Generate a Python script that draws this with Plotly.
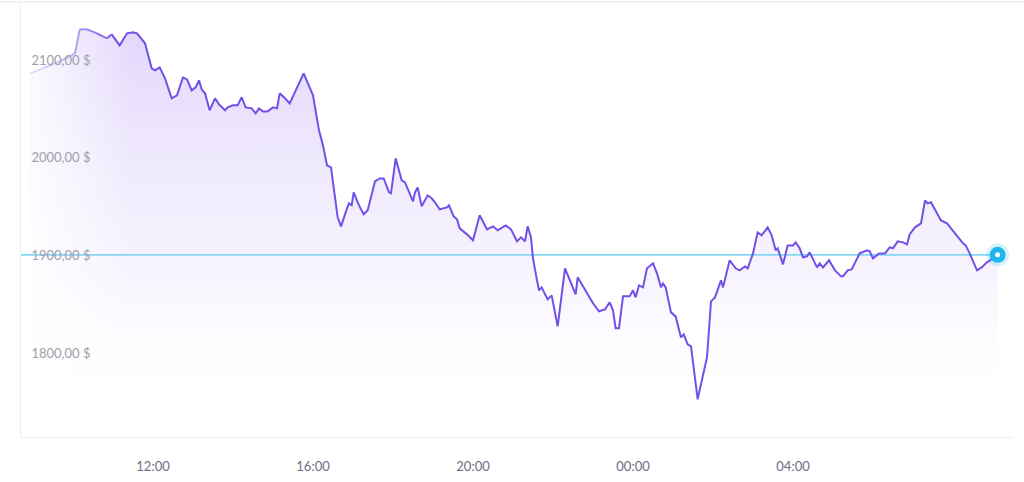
import plotly.graph_objects as go
import pandas as pd

# ---- data ----
times = [
    "08:56", "09:18", "09:40", "10:03", "10:10", "10:21", "10:36", "10:51", "10:58", "11:10",
    "11:21", "11:30", "11:36", "11:48", "11:58", "12:03", "12:10", "12:18", "12:28", "12:36",
    "12:45", "12:51", "12:58", "13:04", "13:09", "13:13", "13:18", "13:25", "13:33", "13:39",
    "13:48", "13:52", "14:00", "14:07", "14:13", "14:19", "14:28", "14:34", "14:39", "14:45",
    "14:52", "15:00", "15:06", "15:10", "15:18", "15:25", "15:46", "16:00", "16:09", "16:15",
    "16:21", "16:27", "16:37", "16:42", "16:51", "16:54", "16:58", "17:01", "17:09", "17:16",
    "17:22", "17:33", "17:40", "17:46", "17:54", "17:57", "18:04", "18:13", "18:18", "18:30",
    "18:33", "18:37", "18:43", "18:52", "18:58", "19:03", "19:10", "19:21", "19:24", "19:31",
    "19:36", "19:40", "19:51", "20:00", "20:10", "20:21", "20:30", "20:37", "20:49", "20:57",
    "21:06", "21:12", "21:18", "21:22", "21:27", "21:30", "21:36", "21:39", "21:43", "21:52",
    "21:58", "22:07", "22:18", "22:25", "22:34", "22:37", "22:48", "23:00", "23:09", "23:18",
    "23:25", "23:30", "23:34", "23:39", "23:45", "23:55", "00:00", "00:04", "00:09", "00:15",
    "00:21", "00:30", "00:36", "00:42", "00:45", "00:49", "00:57", "01:04", "01:12", "01:16",
    "01:22", "01:27", "01:37", "01:51", "01:57", "02:03", "02:12", "02:15", "02:25", "02:34",
    "02:40", "02:48", "02:52", "03:00", "03:07", "03:13", "03:22", "03:28", "03:34", "03:37",
    "03:45", "03:52", "04:00", "04:04", "04:10", "04:15", "04:21", "04:25", "04:36", "04:40",
    "04:45", "04:54", "05:03", "05:12", "05:15", "05:22", "05:28", "05:40", "05:51", "05:55",
    "06:00", "06:09", "06:18", "06:25", "06:30", "06:37", "06:45", "06:51", "06:55", "07:03",
    "07:12", "07:18", "07:22", "07:27", "07:36", "07:42", "07:51", "08:03", "08:10", "08:15",
    "08:19", "08:25", "08:36", "08:43", "08:51", "08:55", "09:07",
]
prices = [
    2086.3, 2092.5, 2098.6, 2106.8, 2131.4, 2131.4, 2127.3, 2122.2, 2126.3, 2115.0,
    2127.3, 2128.3, 2127.3, 2117.1, 2091.5, 2089.4, 2092.5, 2081.2, 2060.8, 2063.8,
    2082.3, 2080.2, 2068.9, 2072.0, 2079.2, 2070.0, 2065.9, 2048.5, 2060.8, 2054.6,
    2048.5, 2051.5, 2053.6, 2053.6, 2061.8, 2051.5, 2050.5, 2045.4, 2050.5, 2047.4,
    2047.4, 2051.5, 2050.5, 2065.9, 2060.8, 2055.6, 2086.3, 2063.8, 2028.0, 2012.6,
    1992.2, 1990.1, 1938.9, 1929.7, 1948.1, 1953.2, 1951.2, 1964.5, 1951.2, 1942.0,
    1946.1, 1975.8, 1978.8, 1978.8, 1964.5, 1963.5, 1999.3, 1976.8, 1974.7, 1955.3,
    1964.5, 1969.6, 1950.2, 1961.4, 1958.4, 1954.3, 1947.1, 1949.1, 1951.2, 1939.9,
    1936.9, 1927.6, 1921.5, 1915.4, 1941.0, 1926.6, 1929.7, 1925.6, 1930.7, 1926.6,
    1914.3, 1918.4, 1914.3, 1929.7, 1918.4, 1896.9, 1874.4, 1864.2, 1867.2, 1854.9,
    1859.0, 1827.3, 1886.7, 1875.4, 1860.1, 1877.5, 1865.2, 1850.9, 1842.7, 1844.7,
    1851.9, 1843.7, 1825.3, 1825.3, 1858.0, 1858.0, 1864.2, 1857.0, 1869.3, 1867.2,
    1886.7, 1891.8, 1881.6, 1867.2, 1871.3, 1867.2, 1841.6, 1837.5, 1816.0, 1819.1,
    1808.9, 1806.8, 1752.6, 1795.6, 1852.9, 1857.0, 1874.4, 1867.2, 1894.9, 1886.7,
    1884.6, 1888.7, 1886.7, 1902.0, 1923.5, 1920.5, 1928.7, 1920.5, 1905.1, 1907.2,
    1890.8, 1910.2, 1910.2, 1913.3, 1907.2, 1898.0, 1899.0, 1903.1, 1887.7, 1891.8,
    1887.7, 1894.9, 1884.6, 1878.5, 1878.5, 1884.6, 1885.5, 1902.0, 1905.1, 1904.1,
    1896.9, 1902.0, 1902.0, 1908.2, 1907.2, 1914.3, 1913.3, 1911.3, 1921.5, 1928.7,
    1932.8, 1956.3, 1953.2, 1954.3, 1943.0, 1935.8, 1932.8, 1922.5, 1915.4, 1912.3,
    1910.2, 1902.0, 1884.6, 1887.7, 1892.8, 1894.9, 1900.5,
]
x_tick_labels = ["12:00", "16:00", "20:00", "00:00", "04:00"]
y_tick_values = [1800, 1900, 2000, 2100]
y_tick_labels = ["1800,00 $", "1900,00 $", "2000,00 $", "2100,00 $"]
x_range = ["2024-01-01 08:42", "2024-01-02 09:30"]
y_range = [1714, 2159.4]

BASE = pd.Timestamp("2024-01-01")


def to_stamps(labels):
    out, day, prev = [], 0, None
    for t in labels:
        h, m = map(int, t.split(":"))
        mins = h * 60 + m
        if prev is not None and mins < prev:
            day += 1
        prev = mins
        out.append((BASE + pd.Timedelta(days=day, minutes=mins)).strftime("%Y-%m-%d %H:%M"))
    return out


stamps = to_stamps(times)
tick_stamps = to_stamps(x_tick_labels)

LINE = "rgb(114,80,232)"
CYAN = "#1fb6ee"

fig = go.Figure()

# gradient area
fig.add_trace(go.Scatter(
    x=stamps, y=prices, mode="lines", line=dict(width=0, color="rgba(0,0,0,0)"),
    fill="tozeroy",
    fillgradient=dict(
        type="vertical",
        colorscale=[[0, "rgba(255,255,255,0)"], [0.35, "rgba(220,208,250,0.22)"],
                    [1, "rgba(195,172,248,0.48)"]],
        start=y_range[0] + 20, stop=2130,
    ),
    hoverinfo="skip", showlegend=False,
))

# white fade over the left start of the area
n_left = 12
fig.add_trace(go.Scatter(
    x=stamps[:n_left], y=prices[:n_left], mode="lines", line=dict(width=0, color="rgba(0,0,0,0)"),
    fill="tozeroy",
    fillgradient=dict(
        type="horizontal",
        colorscale=[[0, "rgba(255,255,255,0.85)"], [1, "rgba(255,255,255,0)"]],
    ),
    hoverinfo="skip", showlegend=False,
))

# reference line at the latest price
fig.add_trace(go.Scatter(
    x=[x_range[0], stamps[-1]], y=[prices[-1], prices[-1]], mode="lines",
    line=dict(color="#86d6f6", width=1.6), hoverinfo="skip", showlegend=False,
))

# faded start of the line
n_fade = 8
for i in range(n_fade):
    a = 0.2 + 0.8 * (i / n_fade)
    fig.add_trace(go.Scatter(
        x=stamps[i:i + 2], y=prices[i:i + 2], mode="lines",
        line=dict(color=f"rgba(114,80,232,{a:.2f})", width=2),
        hoverinfo="skip", showlegend=False,
    ))

fig.add_trace(go.Scatter(
    x=stamps[n_fade:], y=prices[n_fade:], mode="lines",
    line=dict(color=LINE, width=2), showlegend=False,
))

# end marker
fig.add_trace(go.Scatter(x=[stamps[-1]], y=[prices[-1]], mode="markers",
                         marker=dict(size=23, color="rgba(31,182,238,0.18)"),
                         hoverinfo="skip", showlegend=False))
fig.add_trace(go.Scatter(x=[stamps[-1]], y=[prices[-1]], mode="markers",
                         marker=dict(size=16, color=CYAN),
                         hoverinfo="skip", showlegend=False))
fig.add_trace(go.Scatter(x=[stamps[-1]], y=[prices[-1]], mode="markers",
                         marker=dict(size=5, color="white"),
                         hoverinfo="skip", showlegend=False))

fig.update_layout(
    width=1024, height=482,
    margin=dict(l=21, r=11, t=2, b=45),
    paper_bgcolor="white", plot_bgcolor="white",
    font=dict(family="Lato, 'Open Sans', sans-serif"),
    showlegend=False,
    xaxis=dict(
        type="date", range=x_range, tickvals=tick_stamps, ticktext=x_tick_labels,
        showgrid=False, zeroline=False, showline=True, linecolor="#eceef2", linewidth=1,
        ticks="", ticklabelstandoff=17,
        tickfont=dict(size=13, color="#6c6c84"),
    ),
    yaxis=dict(
        range=y_range, tickvals=y_tick_values, ticktext=y_tick_labels,
        showgrid=False, zeroline=False, showline=True, linecolor="#eceef2", linewidth=1,
        ticks="", ticklabelposition="inside", ticklabelstandoff=10,
        tickfont=dict(size=13, color="#9e9eaa"),
    ),
    shapes=[dict(type="line", xref="paper", yref="paper", x0=-0.03, x1=1.03, y0=1, y1=1,
                 line=dict(color="#e2e2e6", width=1))],
)

fig.write_html("out.html", config={"displayModeBar": False},
               post_script="document.body.style.margin='0';")
